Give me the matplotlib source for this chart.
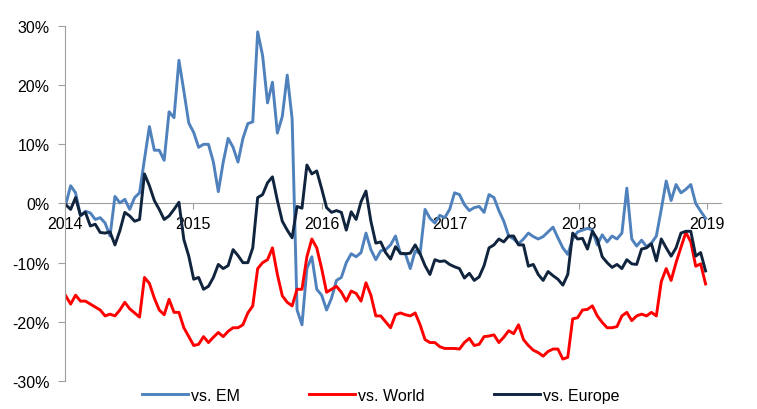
import numpy as np
import pandas as pd
import matplotlib
matplotlib.use("Agg")
import matplotlib.pyplot as plt
import matplotlib.dates as mdates

plt.rcParams['font.family'] = ['Liberation Sans', 'DejaVu Sans']

# fortnightly relative performance (%), Jan 2014 - Dec 2018
dates = pd.date_range('2014-01-03', periods=131, freq='14D')

vs_em = [
    -0.2, 3.0, 1.8, -2.1, -1.3, -1.6, -2.7, -2.4, -3.3, -5.5,
    1.2, 0.1, 0.7, -1.0, 1.0, 1.8, 7.5, 13.0, 9.0, 9.0,
    7.3, 15.5, 14.5, 24.2, 19.0, 13.6, 12.0, 9.5, 10.0, 10.0,
    7.0, 2.0, 7.0, 11.0, 9.5, 7.0, 11.0, 13.5, 13.8, 29.0,
    25.0, 17.0, 20.5, 11.9, 14.7, 21.7, 14.3, -18.0, -20.5, -11.0,
    -9.0, -14.5, -15.5, -18.0, -16.0, -13.0, -12.5, -10.0, -8.5, -9.0,
    -8.3, -5.0, -7.8, -9.5, -8.0, -7.8, -7.0, -5.5, -8.5, -8.5,
    -11.0, -8.0, -8.5, -1.0, -2.5, -3.3, -2.0, -2.4, -1.0, 1.8,
    1.5, -0.2, -1.2, -0.7, -0.5, -1.5, 1.5, 1.0, -1.2, -3.0,
    -5.5, -6.0, -6.8, -6.0, -5.0, -5.6, -6.0, -5.6, -4.8, -4.0,
    -5.8, -7.5, -8.6, -6.0, -4.8, -4.5, -4.2, -4.5, -7.0, -5.3,
    -6.5, -5.5, -6.0, -5.0, 2.6, -6.0, -7.2, -6.2, -7.3, -6.7,
    -5.5, -1.0, 3.8, 0.5, 3.2, 1.8, 2.4, 3.2, 0.0, -1.3,
    -2.5,
]

vs_world = [
    -15.6, -17.0, -15.5, -16.5, -16.5, -17.0, -17.5, -18.0, -19.0, -18.7,
    -19.0, -18.0, -16.7, -17.8, -18.5, -19.2, -12.5, -13.5, -16.0, -18.0,
    -18.8, -16.2, -18.4, -18.4, -21.0, -22.5, -24.0, -23.8, -22.5, -23.5,
    -22.6, -21.8, -22.5, -21.6, -21.0, -21.0, -20.5, -18.5, -17.3, -11.0,
    -10.0, -9.5, -7.5, -12.0, -15.6, -16.7, -17.3, -14.5, -14.5, -9.0,
    -6.0, -7.5, -11.0, -15.0, -14.5, -14.0, -15.0, -16.5, -14.8, -15.2,
    -16.5, -13.4, -15.5, -19.0, -19.0, -20.0, -21.0, -18.8, -18.5, -18.8,
    -19.0, -18.5, -20.5, -23.0, -23.5, -23.5, -24.2, -24.5, -24.5, -24.5,
    -24.6, -23.5, -22.8, -24.0, -23.8, -22.5, -22.4, -22.2, -23.5, -22.6,
    -21.5, -22.0, -20.5, -23.0, -24.0, -24.8, -25.2, -25.8, -25.0, -24.6,
    -24.6, -26.3, -26.0, -19.5, -19.3, -18.0, -17.9, -17.3, -19.0, -20.1,
    -21.0, -21.0, -20.8, -19.0, -18.4, -19.8, -19.0, -18.7, -19.0, -18.4,
    -19.0, -13.2, -11.0, -13.0, -10.0, -7.4, -4.9, -6.5, -10.6, -10.2,
    -13.6,
]

vs_europe = [
    -0.2, -1.0, 1.0, -2.0, -1.5, -3.8, -3.5, -4.9, -5.0, -4.8,
    -7.0, -4.6, -1.5, -2.1, -3.0, -2.7, 5.0, 3.0, 0.5, -1.0,
    -2.7, -2.1, -1.0, 0.2, -6.1, -8.9, -12.8, -12.5, -14.5, -14.0,
    -12.5, -10.3, -11.0, -10.5, -7.8, -8.8, -10.0, -10.0, -7.5, 1.0,
    1.5, 3.5, 4.5, 0.5, -3.0, -4.5, -5.8, -0.5, -0.8, 6.5,
    5.0, 5.5, 2.5, -0.7, -1.5, -1.2, -1.5, -4.5, -1.4, -2.7,
    0.3, 2.1, -3.0, -6.7, -6.5, -8.3, -9.4, -7.3, -8.4, -8.5,
    -8.4, -7.0, -8.5, -10.5, -12.0, -9.5, -9.8, -9.7, -10.3, -10.7,
    -11.0, -12.6, -11.8, -13.0, -12.4, -10.5, -7.5, -7.0, -6.0, -6.5,
    -5.5, -5.5, -7.0, -7.0, -10.6, -10.3, -12.0, -13.0, -11.5, -12.2,
    -12.8, -13.8, -12.0, -5.0, -6.0, -5.9, -7.7, -4.7, -6.0, -9.0,
    -10.0, -10.8, -10.3, -11.0, -9.5, -10.2, -10.3, -7.7, -7.5, -6.8,
    -9.7, -6.0, -7.5, -8.9, -7.5, -5.0, -4.7, -4.7, -8.9, -8.3,
    -11.4,
]

years = [2014, 2015, 2016, 2017, 2018, 2019]
yticks = [-30, -20, -10, 0, 10, 20, 30]

fig = plt.figure(figsize=(7.57, 4.10), dpi=100)
ax = fig.add_axes([0.0859, 0.0683, 0.8666, 0.8659])

ax.plot(dates, vs_em, color='#4F81BD', lw=2.1, label='vs. EM')
ax.plot(dates, vs_world, color='#FF0000', lw=2.1, label='vs. World')
ax.plot(dates, vs_europe, color='#10243E', lw=2.1, label='vs. Europe')

ax.set_ylim(-30, 30)
ax.set_xlim(pd.Timestamp('2014-01-01'), pd.Timestamp('2019-02-10'))
ax.set_yticks(yticks)
ax.set_yticklabels([f'{v}%' for v in yticks])
ax.set_xticks([pd.Timestamp(f'{y}-01-01') for y in years])
ax.set_xticklabels([str(y) for y in years])

grey = '#A0A0A0'
for s in ['top', 'right']:
    ax.spines[s].set_visible(False)
ax.spines['left'].set_color(grey)
ax.spines['bottom'].set_color(grey)
ax.spines['bottom'].set_position(('data', 0))
ax.spines['bottom'].set_zorder(0)
ax.tick_params(axis='y', colors=grey, labelcolor='black', labelsize=11.5,
               length=5, pad=6)
ax.tick_params(axis='x', colors=grey, labelcolor='black', labelsize=11.5,
               length=4, pad=5, direction='out')

fig.legend(loc='center', bbox_to_anchor=(0.503, 0.034), ncol=3, frameon=False,
           fontsize=11.5, handlelength=2.9, handletextpad=0.2, columnspacing=4.3)

fig.savefig('out.png', dpi=100)
